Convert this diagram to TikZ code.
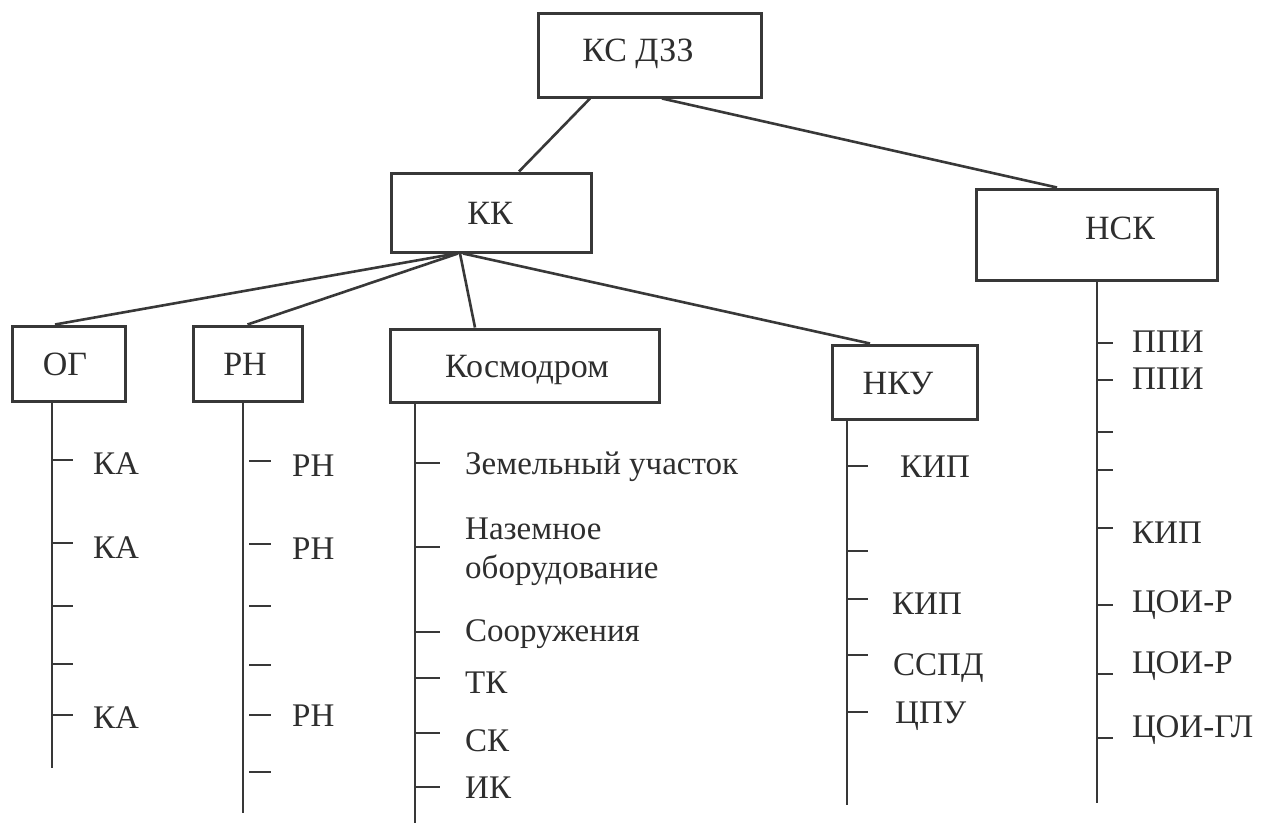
\documentclass[tikz,border=0pt]{standalone}
\usepackage{fontspec}
\setmainfont{Liberation Serif}
\definecolor{ink}{HTML}{383838}
\definecolor{txt}{HTML}{2E2E2E}
\begin{document}
\begin{tikzpicture}[x=1pt,y=-1pt,
  box/.style={draw=ink,line width=3pt,fill=white,inner sep=0pt},
  conn/.style={draw=ink,line width=2.6pt},
  tick/.style={draw=ink,line width=2.8pt},
  lbl/.style={anchor=base west,inner sep=0pt,text=txt,font=\fontsize{33}{39}\selectfont},
  blbl/.style={anchor=base,inner sep=0pt,text=txt,font=\fontsize{34}{40}\selectfont}]
\useasboundingbox[fill=white] (0,0) rectangle (1273,823);

% boxes
\node[box,minimum width=223pt,minimum height=84pt] (kszz) at (649.5,55) {};
\node[box,minimum width=200pt,minimum height=79pt] (kk) at (491,212.5) {};
\node[box,minimum width=241pt,minimum height=91pt] (nsk) at (1096.5,234.5) {};
\node[box,minimum width=113pt,minimum height=75pt] (og) at (68.5,363.5) {};
\node[box,minimum width=109pt,minimum height=75pt] (rn) at (247.5,363.5) {};
\node[box,minimum width=269pt,minimum height=73pt] (kosm) at (524.5,365.5) {};
\node[box,minimum width=145pt,minimum height=74pt] (nku) at (904.5,382) {};

% box texts
\node[blbl] (kszz-t) at (638,61) {КС ДЗЗ};
\node[blbl] (kk-t) at (490,224) {КК};
\node[blbl] (nsk-t) at (1120,239) {НСК};
\node[blbl] (og-t) at (65,375) {ОГ};
\node[blbl] (rn-t) at (245,375) {РН};
\node[blbl] (kosm-t) at (527,377) {Космодром};
\node[blbl] (nku-t) at (898,394) {НКУ};

% connectors between boxes
\draw[conn] ([xshift=-59.5pt]kszz.south) -- ([xshift=28pt]kk.north);
\draw[conn] ([xshift=12.5pt]kszz.south) -- ([xshift=-39.5pt]nsk.north);
\draw[conn] ([xshift=-35pt]kk.south) -- ([xshift=-13.5pt]og.north);
\draw[conn] ([xshift=-33pt]kk.south) -- (rn.north);
\draw[conn] ([xshift=-31pt]kk.south) -- ([xshift=-49.5pt]kosm.north);
\draw[conn] ([xshift=-28pt]kk.south) -- ([xshift=-34.5pt]nku.north);

% vertical branch lines
\coordinate (og-end) at (52,768);
\coordinate (rn-end) at (243,813);
\coordinate (kosm-end) at (415,823);
\coordinate (nku-end) at (847,805);
\coordinate (nsk-end) at (1097,803);
\draw[conn] ([xshift=-16.5pt]og.south) -- (og-end);
\draw[conn] ([xshift=-4.5pt]rn.south) -- (rn-end);
\draw[conn] ([xshift=-109.5pt]kosm.south) -- (kosm-end);
\draw[conn] ([xshift=-57.5pt]nku.south) -- (nku-end);
\draw[conn] ([xshift=0.5pt]nsk.south) -- (nsk-end);

% ticks
\foreach \y in {460,543,606,664,715} \draw[tick] (52,\y) -- (73,\y);
\foreach \y in {461,544,606,665,715,772} \draw[tick] (249,\y) -- (271,\y);
\foreach \y in {463,547,632,678,733,787} \draw[tick] (415,\y) -- (440,\y);
\foreach \y in {466,551,599,655,712} \draw[tick] (847,\y) -- (868,\y);
\foreach \y in {343,380,432,470,528,605,674,738} \draw[tick] (1097,\y) -- (1113,\y);

% OG labels
\node[lbl] (og-1) at (93,474) {КА};
\node[lbl] (og-2) at (93,558) {КА};
\node[lbl] (og-3) at (93,728) {КА};
% RN labels
\node[lbl] (rn-1) at (292,476) {РН};
\node[lbl] (rn-2) at (292,559) {РН};
\node[lbl] (rn-3) at (292,726) {РН};
% Kosmodrom labels
\node[lbl] (ko-1) at (465,474) {Земельный участок};
\node[lbl] (ko-2a) at (465,539) {Наземное};
\node[lbl] (ko-2b) at (465,578) {оборудование};
\node[lbl] (ko-3) at (465,641) {Сооружения};
\node[lbl] (ko-4) at (465,693) {ТК};
\node[lbl] (ko-5) at (465,751) {СК};
\node[lbl] (ko-6) at (465,798) {ИК};
% NKU labels
\node[lbl] (nku-1) at (900,477) {КИП};
\node[lbl] (nku-2) at (892,614) {КИП};
\node[lbl] (nku-3) at (893,675) {ССПД};
\node[lbl] (nku-4) at (895,723) {ЦПУ};
% NSK labels
\node[lbl] (nsk-1) at (1132,352) {ППИ};
\node[lbl] (nsk-2) at (1132,389) {ППИ};
\node[lbl] (nsk-3) at (1132,543) {КИП};
\node[lbl] (nsk-4) at (1132,612) {ЦОИ-Р};
\node[lbl] (nsk-5) at (1132,673) {ЦОИ-Р};
\node[lbl] (nsk-6) at (1132,737) {ЦОИ-ГЛ};
\end{tikzpicture}
\end{document}
